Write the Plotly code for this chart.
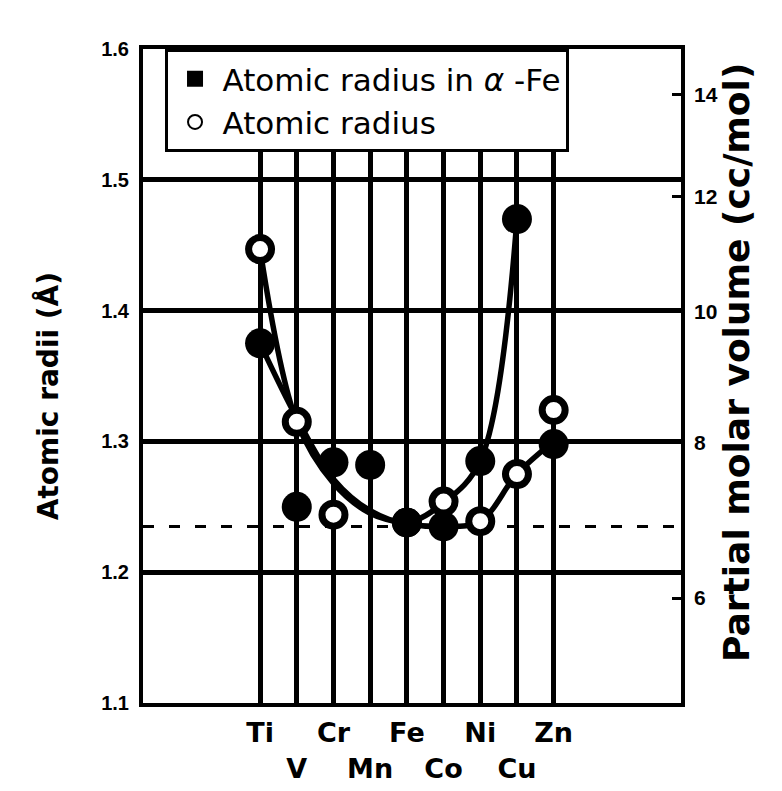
import plotly.graph_objects as go

# ---- data ----
elements = ["Ti", "V", "Cr", "Mn", "Fe", "Co", "Ni", "Cu", "Zn"]
label_row = [1, 2, 1, 2, 1, 2, 1, 2, 1]          # staggered tick-label rows

radius_in_alpha_fe = [1.375, 1.250, 1.284, 1.282, 1.238, 1.235, 1.285, 1.470, 1.298]
radius_atomic      = [1.447, 1.315, 1.244, None,  1.238, 1.254, 1.239, 1.275, 1.324]

# smooth trend curves, values read at each element position
curve_in_alpha_fe  = [1.375, 1.318, 1.271, 1.247, 1.238, 1.253, 1.285, 1.470, None]
curve_atomic       = [1.447, 1.315, 1.268, 1.245, 1.237, 1.235, 1.239, 1.275, 1.300]

reference_radius = 1.235                          # dashed horizontal line

left_ticks = [1.1, 1.2, 1.3, 1.4, 1.5, 1.6]
volume_ticks = [6, 8, 10, 12, 14]                 # right axis (cc/mol)
volume_per_r3 = 3.65                              # V = k * r^3 relation of the two axes

# ---- figure ----
x = list(range(len(elements)))
ticktext = [e if r == 1 else " <br>" + e for e, r in zip(elements, label_row)]

FONT = "Liberation Sans"
BOLD = "DejaVu Sans"
fig = go.Figure()

fig.add_trace(go.Scatter(x=x, y=curve_atomic, mode="lines", line_shape="spline",
                         line=dict(color="black", width=5.5), showlegend=False,
                         hoverinfo="skip"))
fig.add_trace(go.Scatter(x=x, y=curve_in_alpha_fe, mode="lines", line_shape="spline",
                         line=dict(color="black", width=5.5), showlegend=False,
                         hoverinfo="skip"))
fig.add_trace(go.Scatter(x=x, y=radius_atomic, mode="markers",
                         marker=dict(symbol="circle", size=23, color="white",
                                     line=dict(color="black", width=7)),
                         showlegend=False))
fig.add_trace(go.Scatter(x=x, y=radius_in_alpha_fe, mode="markers",
                         marker=dict(symbol="circle", size=30, color="black"),
                         showlegend=False))

# legend entries
fig.add_trace(go.Scatter(x=[None], y=[None], mode="markers", legendgroup="a",
                         name="Atomic radius in <i>α</i> -Fe",
                         marker=dict(symbol="square", size=16, color="black")))
fig.add_trace(go.Scatter(x=[None], y=[None], mode="markers", legendgroup="b",
                         name="Atomic radius",
                         marker=dict(symbol="circle", size=14, color="white",
                                     line=dict(color="black", width=2))))

# invisible trace to carry the right axis
fig.add_trace(go.Scatter(x=[None], y=[None], yaxis="y2", showlegend=False,
                         hoverinfo="skip"))

fig.add_shape(type="line", xref="paper", x0=0, x1=1, yref="y",
              y0=reference_radius, y1=reference_radius, layer="between",
              line=dict(color="black", width=3, dash="11px,15px"))

vol_pos = [(v / volume_per_r3) ** (1 / 3) for v in volume_ticks]

fig.update_layout(
    width=782, height=791,
    margin=dict(l=135, r=109, t=41, b=96, autoexpand=False),
    paper_bgcolor="white", plot_bgcolor="white",
    font=dict(family=FONT, color="black"),
    xaxis=dict(range=[-3.19, 11.47], tickmode="array", tickvals=x, ticktext=ticktext,
               showgrid=True, gridcolor="black", gridwidth=5, zeroline=False,
               showline=True, linecolor="black", linewidth=4, mirror=True,
               ticks="", tickangle=0, automargin=False,
               tickfont=dict(size=27, family=BOLD, weight="bold"),
               ticklabelstandoff=3),
    yaxis=dict(range=[1.1, 1.6], tickmode="array", tickvals=left_ticks,
               ticktext=[f"{v:.1f}" for v in left_ticks], automargin=False,
               showgrid=True, gridcolor="black", gridwidth=5, zeroline=False,
               showline=True, linecolor="black", linewidth=4, mirror=True,
               ticks="", tickfont=dict(size=20, family=FONT, weight="bold"),
               ticklabelstandoff=6),
    yaxis2=dict(overlaying="y", side="right", range=[1.1, 1.6], tickmode="array",
                tickvals=vol_pos, ticktext=[str(v) for v in volume_ticks],
                showgrid=False, zeroline=False, showline=False, automargin=False,
                ticks="inside", ticklen=9, tickwidth=3, tickcolor="black",
                tickfont=dict(size=21, family=FONT, weight="bold"),
                ticklabelstandoff=12),
    legend=dict(x=0.04, y=1, xanchor="left", yanchor="top",
                bgcolor="white", bordercolor="black", borderwidth=3,
                font=dict(size=31, family=BOLD), tracegroupgap=0,
                traceorder="grouped", itemwidth=45),
    showlegend=True,
)

fig.add_annotation(text="Atomic radii (Å)", textangle=-90, xref="paper", yref="paper",
                   x=0, y=0.469, xshift=-95, showarrow=False, xanchor="center",
                   yanchor="middle", font=dict(size=28, family=BOLD, weight="bold"))
fig.add_annotation(text="Partial molar volume (cc/mol)", textangle=-90, xref="paper",
                   yref="paper", x=1, y=0.52, xshift=56, showarrow=False,
                   xanchor="center", yanchor="middle",
                   font=dict(size=36, family=BOLD, weight="bold"))

fig.write_html("out.html")
